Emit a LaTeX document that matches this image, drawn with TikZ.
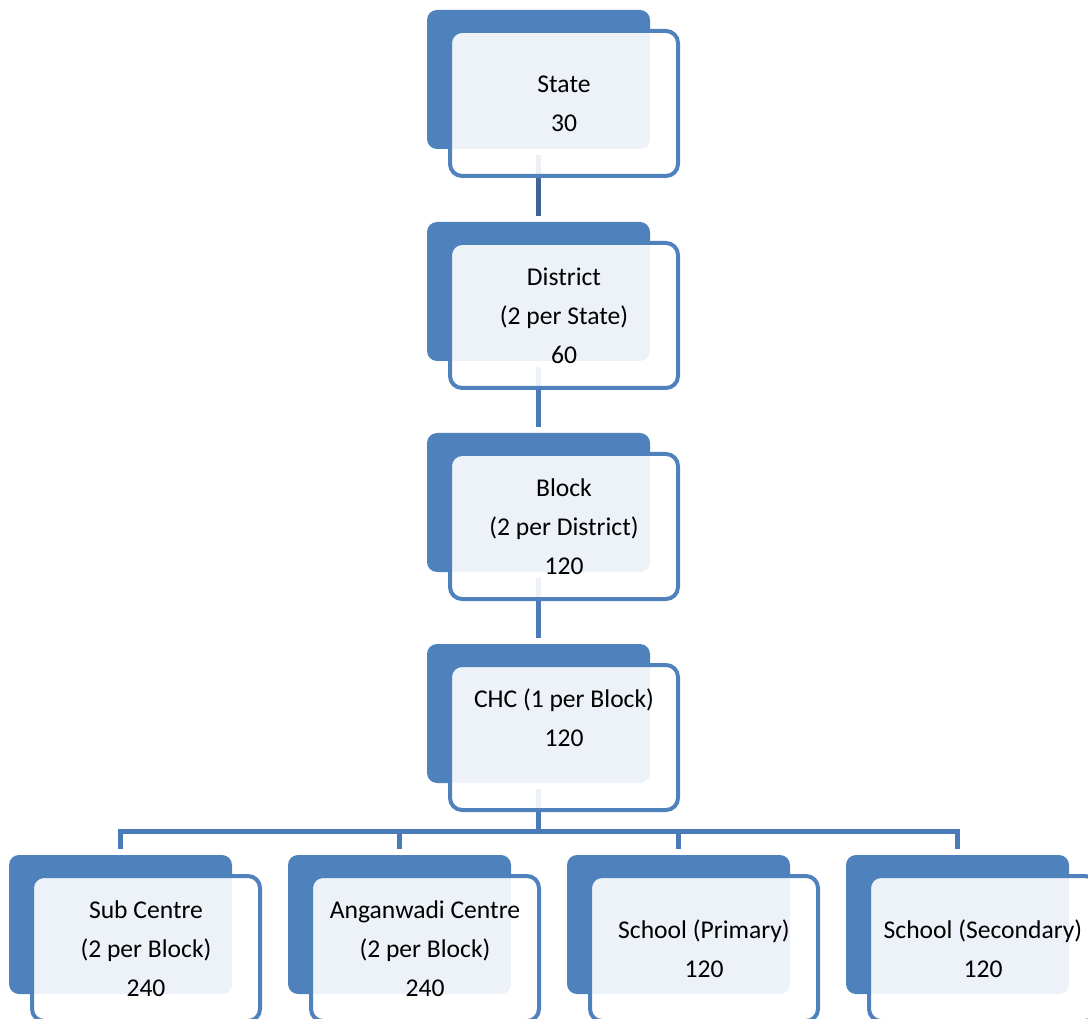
\documentclass[tikz,border=0pt]{standalone}
\usepackage{fontspec}
\setmainfont{Carlito}
\pgfdeclarelayer{bg}
\pgfsetlayers{bg,main}
\definecolor{boxblue}{HTML}{4F81BD}
\definecolor{linkdark}{HTML}{3F6598}
\definecolor{linkblue}{HTML}{4A7AB8}
\begin{document}
\begin{tikzpicture}[x=0.75pt,y=-0.75pt,
  backbox/.style={rectangle,rounded corners=7.5pt,fill=boxblue,draw=none,
    minimum width=167.25pt,minimum height=104.25pt,inner sep=0pt,outer sep=0pt},
  frontbox/.style={rectangle,rounded corners=9pt,draw=boxblue,line width=3pt,
    fill=white,fill opacity=0.9,text opacity=1,text=black,
    minimum width=171pt,minimum height=108.75pt,inner sep=0pt,outer sep=0pt,
    align=center,font=\fontsize{19.2pt}{29.25pt}\selectfont},
  link/.style={draw=linkblue,line width=3.75pt},
  linktop/.style={draw=linkdark,line width=3.75pt}
]
\path[use as bounding box,clip] (0,0) rectangle (1088,1019);
% top column
\node[backbox] (bS) at (538.5,79.5) {};
\node[frontbox] (fS) at (564,103.5) {State\\30};
\node[backbox] (bD) at (538.5,291.5) {};
\node[frontbox] (fD) at (564,315.5) {District\\(2 per State)\\60};
\node[backbox] (bB) at (538.5,502.5) {};
\node[frontbox] (fB) at (564,526.5) {Block\\(2 per District)\\120};
\node[backbox] (bC) at (538.5,713.5) {};
\node[frontbox] (fC) at (564,737.5) {CHC (1 per Block)\\120\\~};
% bottom row
\node[backbox] (b1) at (120.5,924.5) {};
\node[frontbox] (f1) at (146,948.5) {Sub Centre\\(2 per Block)\\240};
\node[backbox] (b2) at (399.5,924.5) {};
\node[frontbox] (f2) at (425,948.5) {Anganwadi Centre\\(2 per Block)\\240};
\node[backbox] (b3) at (678.5,924.5) {};
\node[frontbox] (f3) at (704,948.5) {School (Primary)\\120};
\node[backbox] (b4) at (957.5,924.5) {};
\node[frontbox] (f4) at (983,948.5) {School (Secondary)\\120};
\coordinate (hub) at (538.5,831);
\begin{pgfonlayer}{bg}
\draw[linktop,shorten <=4.5pt,shorten >=4.5pt] (bS.south) -- (bD.north);
\draw[link,shorten <=4.5pt,shorten >=4.5pt] (bD.south) -- (bB.north);
\draw[link,shorten <=4.5pt,shorten >=4.5pt] (bB.south) -- (bC.north);
\draw[link,shorten <=4.5pt] (bC.south) -- (hub);
\draw[link,shorten >=4.5pt] (hub) -| (b1.north);
\draw[link,shorten >=4.5pt] (hub) -| (b2.north);
\draw[link,shorten >=4.5pt] (hub) -| (b3.north);
\draw[link,shorten >=4.5pt] (hub) -| (b4.north);
\end{pgfonlayer}
\end{tikzpicture}
\end{document}
